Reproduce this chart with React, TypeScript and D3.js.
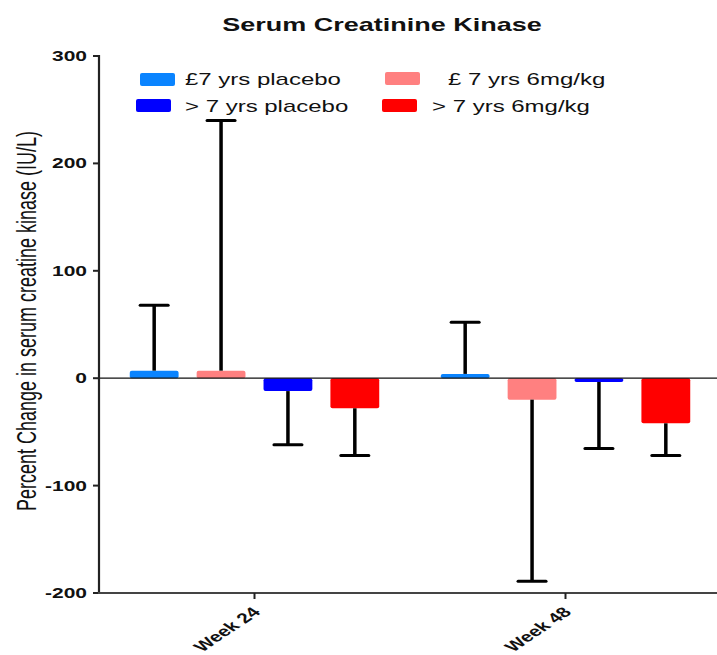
import React from "react";
import * as d3 from "d3";

const title = "Serum Creatinine Kinase";
const yLabel = "Percent Change in serum creatine kinase (IU/L)";
const weeks = ["Week 24", "Week 48"];
const seriesNames = ["£7 yrs placebo", "£ 7 yrs 6mg/kg", "> 7 yrs placebo", "> 7 yrs 6mg/kg"];
const barOrder = ["£7 yrs placebo", "£ 7 yrs 6mg/kg", "> 7 yrs placebo", "> 7 yrs 6mg/kg"];
const colors = ["#0A84FF", "#FF8080", "#0000FF", "#FF0000"];
// mean values per series, per week
const meansWeek24 = [7, 7, -12, -28];
const meansWeek48 = [4, -20, -3.5, -42];
// error bar magnitude (drawn away from zero)
const errWeek24 = [61, 233, 50, 44];
const errWeek48 = [48, 169, 62, 30];
const yTicks = [300, 200, 100, 0, -100, -200];

const W = 717;
const H = 655;
const SX = 1.5;
const FONT = "Arial, 'Liberation Sans', Helvetica, sans-serif";

export default function App() {
  const y = d3.scaleLinear().domain([-200, 300]).range([593, 56]);
  const x0 = d3.scaleBand().domain(weeks).range([99, 721]).paddingInner(0).paddingOuter(0);
  const x1 = d3
    .scaleBand()
    .domain(barOrder)
    .range([0, x0.bandwidth()])
    .paddingInner(0.27)
    .paddingOuter(0.46);

  const data = weeks.flatMap((w, wi) =>
    barOrder.map((s, si) => ({
      week: w,
      series: s,
      color: colors[si],
      mean: wi === 0 ? meansWeek24[si] : meansWeek48[si],
      err: wi === 0 ? errWeek24[si] : errWeek48[si],
    }))
  );

  const legend = [
    { name: seriesNames[0], color: colors[0], sx: 140, sy: 73, tx: 185, ty: 85 },
    { name: seriesNames[2], color: colors[2], sx: 136, sy: 99, tx: 185, ty: 112 },
    { name: seriesNames[1], color: colors[1], sx: 385, sy: 72, tx: 448, ty: 85 },
    { name: seriesNames[3], color: colors[3], sx: 382, sy: 99, tx: 432, ty: 112 },
  ];

  const capW = 28;

  return (
    <svg
      width={W}
      height={H}
      style={{ position: "absolute", left: 0, top: 0, background: "#fff" }}
      fontFamily={FONT}
    >
      <rect width={W} height={H} fill="#fff" />
      {/* title */}
      <text
        transform={`translate(382,31) scale(${SX},1)`}
        textAnchor="middle"
        fontWeight="bold"
        fontSize={18}
        fill="#111"
      >
        {title}
      </text>

      {/* legend */}
      {legend.map((l) => (
        <g key={l.name}>
          <rect x={l.sx} y={l.sy} width={35} height={13} rx={2} fill={l.color} />
          <text transform={`translate(${l.tx},${l.ty}) scale(${SX},1)`} fontSize={16} fill="#111">
            {l.name}
          </text>
        </g>
      ))}

      {/* bars */}
      {data.map((d) => {
        const bx = (x0(d.week) as number) + (x1(d.series) as number);
        const bw = x1.bandwidth();
        const top = y(Math.max(0, d.mean));
        const bot = y(Math.min(0, d.mean));
        return (
          <rect
            key={d.week + d.series}
            x={bx}
            y={top}
            width={bw}
            height={Math.max(1, bot - top)}
            rx={2}
            fill={d.color}
          />
        );
      })}

      {/* zero line */}
      <line x1={99} x2={717} y1={y(0)} y2={y(0)} stroke="#111" strokeWidth={1.2} />

      {/* error bars */}
      {data.map((d) => {
        const cx = (x0(d.week) as number) + (x1(d.series) as number) + x1.bandwidth() / 2;
        const end = d.mean >= 0 ? d.mean + d.err : d.mean - d.err;
        return (
          <g key={"e" + d.week + d.series} stroke="#000" strokeWidth={3.5}>
            <line x1={cx} x2={cx} y1={y(d.mean)} y2={y(end)} />
            <line x1={cx - capW / 2} x2={cx + capW / 2} y1={y(end)} y2={y(end)} strokeLinecap="round" strokeWidth={3} />
          </g>
        );
      })}

      {/* y axis */}
      <line x1={99} x2={99} y1={55} y2={594} stroke="#222" strokeWidth={2.2} />
      {yTicks.map((t) => (
        <g key={t}>
          <line x1={93} x2={99} y1={y(t)} y2={y(t)} stroke="#222" strokeWidth={2} />
          <text
            transform={`translate(87,${y(t) + 5}) scale(${SX},1)`}
            textAnchor="end"
            fontWeight="bold"
            fontSize={14}
            fill="#111"
          >
            {t}
          </text>
        </g>
      ))}

      {/* x axis */}
      <line x1={98} x2={717} y1={593} y2={593} stroke="#444" strokeWidth={2.2} />
      {weeks.map((w) => {
        const cx = (x0(w) as number) + x0.bandwidth() / 2;
        return (
          <g key={w}>
            <line x1={cx} x2={cx} y1={593} y2={599} stroke="#222" strokeWidth={2} />
            <text
              transform={`translate(${cx + 7},613) scale(${SX},1) rotate(-45)`}
              textAnchor="end"
              fontWeight="bold"
              fontSize={14}
              fill="#111"
            >
              {w}
            </text>
          </g>
        );
      })}

      {/* y label */}
      <text
        transform={`translate(36,321) scale(${SX},1) rotate(-90)`}
        textAnchor="middle"
        fontSize={18}
        fill="#111"
      >
        {yLabel}
      </text>
    </svg>
  );
}
